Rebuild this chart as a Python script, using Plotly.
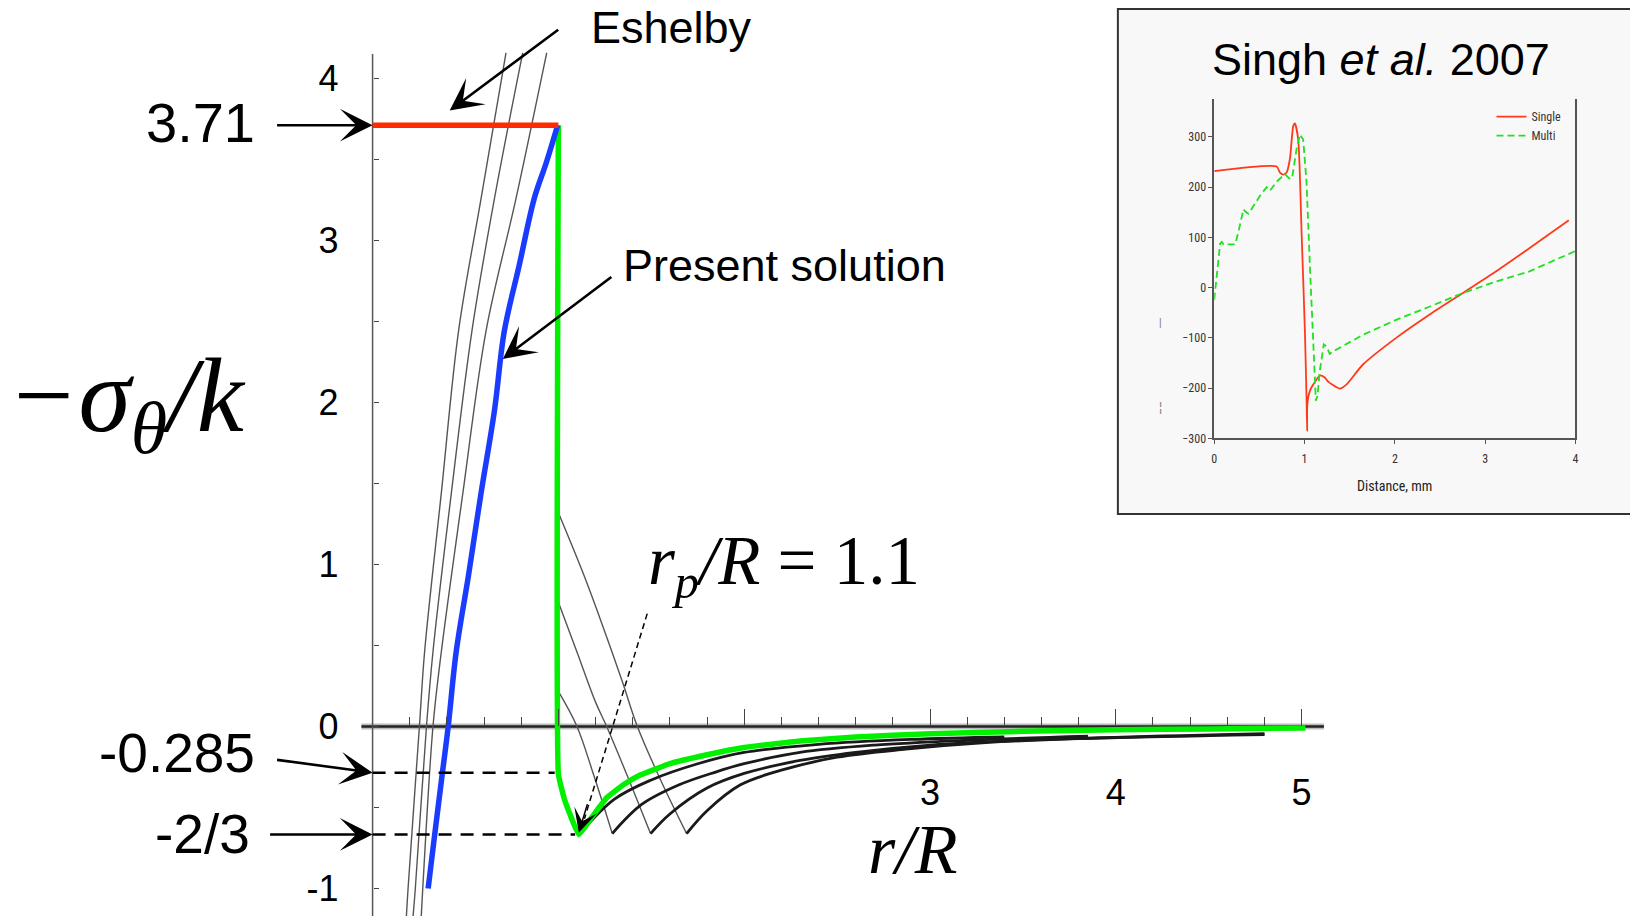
import numpy as np
import plotly.graph_objects as go

W, H = 1630, 923
SANS = "Liberation Sans, Arial, sans-serif"
SERIF = "Liberation Serif, Times New Roman, serif"
NARROW = "Liberation Sans Narrow, Arial Narrow, Roboto Condensed, Liberation Sans, sans-serif"

# ---------------- main chart data ----------------
eshelby_x = [0.0, 1.0]
eshelby_y = [3.71, 3.71]

present_x = [0.996, 0.935, 0.870, 0.790, 0.709, 0.656, 0.584, 0.516, 0.450, 0.407, 0.372, 0.334, 0.299]
present_y = [3.71, 3.48, 3.258, 2.85, 2.44, 1.95, 1.441, 0.931, 0.461, 0.0, -0.32, -0.67, -1.0]

rp11_x = [1.0, 1.0, 1.03, 1.065, 1.11, 1.18, 1.26, 1.35, 1.44, 1.6, 1.8, 2.0, 2.3, 2.6, 3.0, 3.5, 4.0, 4.5, 5.02]
rp11_y = [3.71, -0.295, -0.44, -0.55, -0.667, -0.56, -0.44, -0.36, -0.30, -0.23, -0.175, -0.13, -0.09, -0.065, -0.045, -0.03, -0.02, -0.015, -0.01]

# thin family curves inside the inclusion
thin_in_y = [4.156, 3.258, 2.443, 1.441, 0.461, 0.0, -1.0, -1.17]
thin_in_a = [0.718, 0.584, 0.463, 0.370, 0.280, 0.252, 0.191, 0.182]
thin_in_b = [0.808, 0.656, 0.535, 0.424, 0.325, 0.290, 0.230, 0.218]
thin_in_c = [0.937, 0.772, 0.611, 0.486, 0.370, 0.325, 0.270, 0.262]

# thin family curves outside (descending part)
out1_x = [1.0, 1.138, 1.237, 1.344, 1.425, 1.55, 1.69]
out1_y = [1.318, 0.931, 0.625, 0.277, 0.0, -0.33, -0.661]
out2_x = [1.0, 1.1, 1.2, 1.26, 1.38, 1.496]
out2_y = [0.767, 0.46, 0.15, 0.0, -0.33, -0.661]
out3_x = [1.0, 1.10, 1.19, 1.29]
out3_y = [0.216, 0.0, -0.30, -0.661]

# rising (tail) parts of the family
tail0_x = [1.11, 1.3, 1.5, 1.75, 2.0, 2.4, 2.9, 3.4]
tail0_y = [-0.667, -0.45, -0.33, -0.23, -0.16, -0.11, -0.08, -0.065]
tail1_x = [1.29, 1.45, 1.65, 1.85, 2.0, 2.3, 2.7, 3.2, 3.85]
tail1_y = [-0.661, -0.48, -0.36, -0.28, -0.23, -0.16, -0.115, -0.085, -0.06]
tail2_x = [1.496, 1.6, 1.8, 2.0, 2.3, 2.6, 3.0, 3.5, 4.8]
tail2_y = [-0.661, -0.54, -0.38, -0.29, -0.21, -0.16, -0.115, -0.085, -0.045]
tail3_x = [1.69, 1.80, 1.98, 2.2, 2.5, 2.87, 3.3, 3.8, 4.8]
tail3_y = [-0.661, -0.52, -0.36, -0.27, -0.19, -0.14, -0.10, -0.075, -0.05]

level_values = [3.71, -0.285, -2 / 3]
level_labels = ["3.71", "-0.285", "-2/3"]

x_major_ticks = [1, 2, 3, 4, 5]
x_major_text = ["", "", "3", "4", "5"]
x_minor_ticks = [round(v, 1) for v in np.arange(0.2, 5.0, 0.2) if abs(v - round(v)) > 1e-6]
y_major_ticks = [-1, 0, 1, 2, 3, 4]
y_major_text = ["-1", "0", "1", "2", "3", "4"]
y_minor_ticks = [-0.5, 0.5, 1.5, 2.5, 3.5]

# ---------------- inset (Singh et al. 2007) data ----------------
single_x = [0.0, 0.691, 0.728, 0.765, 0.801, 0.838, 0.875, 0.893, 0.930, 0.967, 1.004, 1.022, 1.029,
            1.031, 1.06, 1.096, 1.169, 1.224, 1.261, 1.390, 1.463, 1.647, 2.015, 2.382, 2.75, 3.118, 3.485, 3.926]
single_y = [232, 241, 229, 225, 229, 256, 322, 327, 295, 111, -87, -219, -285,
            -232, -205, -193, -175, -179, -187, -201, -193, -153, -100, -54, -11, 32, 78, 134]

multi_x = [0.0, 0.029, 0.066, 0.085, 0.103, 0.232, 0.268, 0.324, 0.342, 0.379, 0.434, 0.507, 0.581, 0.618,
           0.691, 0.783, 0.838, 0.864, 0.912, 0.949, 0.985, 1.022, 1.059, 1.096, 1.125, 1.143, 1.169, 1.213,
           1.243, 1.279, 1.316, 1.647, 2.015, 2.382, 2.75, 3.118, 3.485, 4.0]
multi_y = [-24, 32, 88, 91, 86, 86, 111, 156, 152, 147, 163, 183, 200, 193,
           211, 226, 216, 220, 276, 305, 295, 210, 45, -120, -225, -216, -166, -113,
           -117, -132, -127, -94, -64, -38, -11, 12, 32, 73]

inset_xticks = [0, 1, 2, 3, 4]
inset_yticks = [-300, -200, -100, 0, 100, 200, 300]

# ---------------- figure ----------------
fig = go.Figure()

thin_style = dict(color="#555555", width=1.4)
for yy_x in (thin_in_a, thin_in_b, thin_in_c):
    fig.add_trace(go.Scatter(x=yy_x, y=thin_in_y, mode="lines", line=dict(thin_style, shape="spline"),
                             showlegend=False, hoverinfo="skip"))
for ox, oy in ((out1_x, out1_y), (out2_x, out2_y), (out3_x, out3_y)):
    fig.add_trace(go.Scatter(x=ox, y=oy, mode="lines", line=dict(thin_style, shape="spline"),
                             showlegend=False, hoverinfo="skip"))
for tx, ty in ((tail0_x, tail0_y), (tail1_x, tail1_y), (tail2_x, tail2_y), (tail3_x, tail3_y)):
    fig.add_trace(go.Scatter(x=tx, y=ty, mode="lines", line=dict(color="#1a1a1a", width=2.8, shape="spline"),
                             showlegend=False, hoverinfo="skip"))

fig.add_trace(go.Scatter(x=rp11_x, y=rp11_y, mode="lines", line=dict(color="#00f000", width=5.5, shape="spline", smoothing=0.3),
                         showlegend=False, hoverinfo="skip"))
fig.add_trace(go.Scatter(x=present_x, y=present_y, mode="lines",
                         line=dict(color="#1a3cff", width=5.5, shape="spline"),
                         showlegend=False, hoverinfo="skip"))
fig.add_trace(go.Scatter(x=eshelby_x, y=eshelby_y, mode="lines", line=dict(color="#ff2a00", width=5.5),
                         showlegend=False, hoverinfo="skip"))

# inset traces
fig.add_trace(go.Scatter(x=single_x, y=single_y, mode="lines", name="Single",
                         line=dict(color="#ff3a1a", width=1.8, shape="spline", smoothing=0.6),
                         xaxis="x2", yaxis="y2", hoverinfo="skip"))
fig.add_trace(go.Scatter(x=multi_x, y=multi_y, mode="lines", name="Multi",
                         line=dict(color="#22e022", width=1.8, dash="7px,4px"),
                         xaxis="x2", yaxis="y2", hoverinfo="skip"))

# ---------------- shapes ----------------
shapes = []
shapes.append(dict(type="rect", xref="paper", yref="paper", x0=1119 / W, x1=1.005,
                   y0=1 - 518 / H, y1=1 - 9 / H, line=dict(color="#333333", width=2),
                   fillcolor="#f8f8f8", layer="below"))
shapes.append(dict(type="line", xref="x", yref="y", x0=-0.06, x1=5.12, y0=0, y1=0,
                   line=dict(color="rgba(60,60,60,0.35)", width=6), layer="below"))
shapes.append(dict(type="line", xref="x", yref="y", x0=-0.06, x1=5.12, y0=0, y1=0,
                   line=dict(color="#222222", width=2.5), layer="below"))
shapes.append(dict(type="line", xref="x", yref="y", x0=0, x1=0, y0=-1.2, y1=4.15,
                   line=dict(color="#555555", width=1.5), layer="below"))
shapes.append(dict(type="line", xref="x", yref="y", x0=0, x1=0.98, y0=level_values[1], y1=level_values[1],
                   line=dict(color="black", width=2.5, dash="13px,9px")))
shapes.append(dict(type="line", xref="x", yref="y", x0=0, x1=1.09, y0=level_values[2], y1=level_values[2],
                   line=dict(color="black", width=2.5, dash="13px,9px")))
shapes.append(dict(type="line", xref="x", yref="y", x0=1.478, x1=1.14, y0=0.696, y1=-0.57,
                   line=dict(color="black", width=1.5, dash="6px,4px")))
fig.update_layout(shapes=shapes)

# ---------------- annotations ----------------
ann = []


def text(t, xp, yp, size, family=SANS, color="black", xanchor="center"):
    ann.append(dict(text=t, xref="paper", yref="paper", x=xp / W, y=1 - yp / H, showarrow=False,
                    xanchor=xanchor, yanchor="middle", font=dict(size=size, family=family, color=color)))


def arrow(x, y, ax, ay, width=2.6, size=2.1, head=3):
    ann.append(dict(text="", x=x, y=y, xref="x", yref="y", ax=ax, ay=ay, axref="pixel", ayref="pixel",
                    showarrow=True, arrowhead=head, arrowsize=size, arrowwidth=width,
                    arrowcolor="black", standoff=0))


text("Eshelby", 671, 28, 45)
text("Present solution", 784, 268, 45)
text(level_labels[0], 198, 123, 56)
text(level_labels[1], 175, 759, 55)
text(level_labels[2], 200, 840, 55)
text("<i>−σ<sub>θ</sub>/k</i>", 124, 406, 106, SERIF)
text("<i>r/R</i>", 913, 856, 70, SERIF)
text("<i>r<sub>p</sub>/R</i> = 1.1", 784, 570, 69, SERIF)
text("Singh <i>et al.</i> 2007", 1383, 60, 45)
text("Distance, mm", 1397, 490, 14, NARROW, "#222222")
text("|", 1162, 325, 10, SANS, "#777777")
text("¦", 1162, 410, 12, SANS, "#777777")

arrow(0.415, 3.80, 110, -82)
arrow(0.701, 2.268, 110, -83)
arrow(0, level_values[0], -97, 0)
arrow(0, level_values[1], -97, -13)
arrow(0, level_values[2], -104, 0)
arrow(1.11, -0.655, 9, -30, width=1.5, size=2.6)

fig.update_layout(annotations=ann)

# ---------------- axes ----------------
fig.update_layout(
    width=W, height=H, margin=dict(l=0, r=0, t=0, b=0),
    paper_bgcolor="white", plot_bgcolor="rgba(0,0,0,0)",
    hovermode=False,
    xaxis=dict(domain=[0, 1], range=[-1.989, 6.751], anchor="free", position=1 - 731.7 / H,
               showgrid=False, zeroline=False, showline=False,
               tickmode="array", tickvals=x_major_ticks, ticktext=x_major_text,
               ticks="inside", ticklen=17, tickwidth=1.4, tickcolor="#444444",
               tickfont=dict(family=SANS, size=36, color="black"), ticklabelstandoff=42,
               minor=dict(tickmode="array", tickvals=x_minor_ticks, ticks="inside", ticklen=9,
                          tickwidth=1.4, tickcolor="#444444")),
    yaxis=dict(domain=[0, 1], range=[-1.1696, 4.4825], anchor="free", position=371 / W,
               showgrid=False, zeroline=False, showline=False,
               tickmode="array", tickvals=y_major_ticks, ticktext=y_major_text,
               ticks="inside", ticklen=5, tickwidth=1.4, tickcolor="#444444",
               tickfont=dict(family=SANS, size=36, color="black"), ticklabelstandoff=34,
               minor=dict(tickmode="array", tickvals=y_minor_ticks, ticks="inside", ticklen=5,
                          tickwidth=1.4, tickcolor="#444444")),
    xaxis2=dict(domain=[1215.7 / W, 1578.3 / W], range=[0, 4], anchor="y2",
                showgrid=False, zeroline=False, showline=True, linecolor="#555555", linewidth=1.5,
                tickmode="array", tickvals=inset_xticks, ticks="outside", ticklen=4,
                tickcolor="#555555", tickfont=dict(family=NARROW, size=12, color="#333333"),
                ticklabelstandoff=4),
    yaxis2=dict(domain=[1 - 441.7 / H, 1 - 100 / H], range=[-300, 375], anchor="x2",
                showgrid=False, zeroline=False, showline=True, linecolor="#555555", linewidth=1.5,
                mirror=True, tickmode="array", tickvals=inset_yticks, ticks="outside", ticklen=4,
                tickcolor="#555555", tickfont=dict(family=NARROW, size=12, color="#333333")),
    legend=dict(x=1494 / W, y=1 - 103 / H, xanchor="left", yanchor="top",
                bgcolor="rgba(0,0,0,0)", font=dict(family=NARROW, size=12, color="#333333"),
                itemwidth=30, tracegroupgap=0),
)

fig.write_html("out.html", config={"displayModeBar": False},
               post_script="document.body.style.margin='0';document.body.style.overflow='hidden';")
